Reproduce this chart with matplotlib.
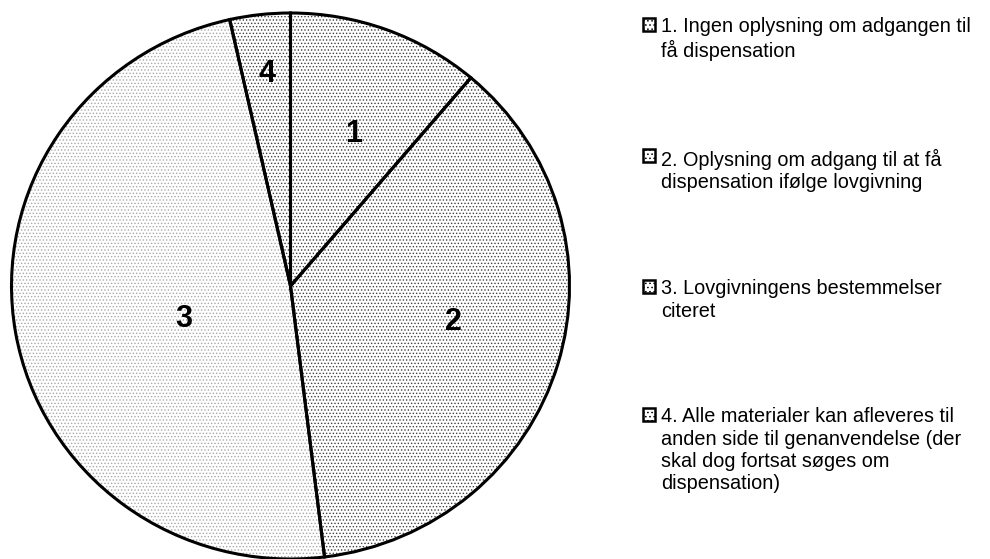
import numpy as np
import matplotlib.pyplot as plt
from matplotlib.patches import Rectangle

plt.rcParams['font.family'] = ['Liberation Sans', 'DejaVu Sans']
plt.rcParams['hatch.linewidth'] = 0.6

# share of each answer category (percent)
categories = ['1', '2', '3', '4']
shares = [11.2, 36.9, 48.5, 3.5]
legend_labels = [
    '1. Ingen oplysning om adgangen til\nfå dispensation',
    '2. Oplysning om adgang til at få\ndispensation ifølge lovgivning',
    '3. Lovgivningens bestemmelser\nciteret',
    '4. Alle materialer kan afleveres til\nanden side til genanvendelse (der\nskal dog fortsat søges om\ndispensation)',
]

dot_colors = ['#404040', '#404040', '#a8a8a8', '#404040']
label_r = [0.60, 0.60, 0.40, 0.78]
label_dtheta = [-2, 4, 8, 0]

W, H = 990, 559
fig = plt.figure(figsize=(W / 100, H / 100), dpi=100)
ax = fig.add_axes([(290.5 - 279) / W, 0.0, 558 / W, 546 / H])

# dotted fill first, then the black outlines on top
wedges, _ = ax.pie(shares, startangle=90, counterclock=False,
                   colors=['white'] * 4, wedgeprops=dict(linewidth=0))
for w, c in zip(wedges, dot_colors):
    w.set_hatch('.....')
    w.set_edgecolor(c)
    w.set_clip_on(False)

outline, _ = ax.pie(shares, startangle=90, counterclock=False,
                    wedgeprops=dict(facecolor='none', edgecolor='black',
                                    linewidth=2.2))
for w in outline:
    w.set_clip_on(False)

for w, lab, r, dt in zip(wedges, categories, label_r, label_dtheta):
    mid = np.deg2rad((w.theta1 + w.theta2) / 2 + dt)
    ax.text(r * np.cos(mid), r * np.sin(mid), lab, ha='center', va='center',
            fontsize=22, fontweight='bold')

ax.set_aspect('auto')
ax.set_xlim(-1, 1)
ax.set_ylim(-1, 1)
ax.axis('off')

# legend on the right, one swatch per category (top edge of each entry, px)
legend_top = [18, 149, 280, 408]
for y, text, c in zip(legend_top, legend_labels, dot_colors):
    sq = Rectangle((642.5 / W, 1 - (y + 12.5) / H), 12.5 / W, 12.5 / H,
                   transform=fig.transFigure, facecolor='white',
                   edgecolor='black', linewidth=1.8, hatch='....')
    fig.patches.append(sq)
    fig.text(661 / W, 1 - (y - 0.5) / H, text, ha='left', va='top',
             fontsize=14.3, linespacing=1.22)

plt.savefig('out.png', dpi=100)
